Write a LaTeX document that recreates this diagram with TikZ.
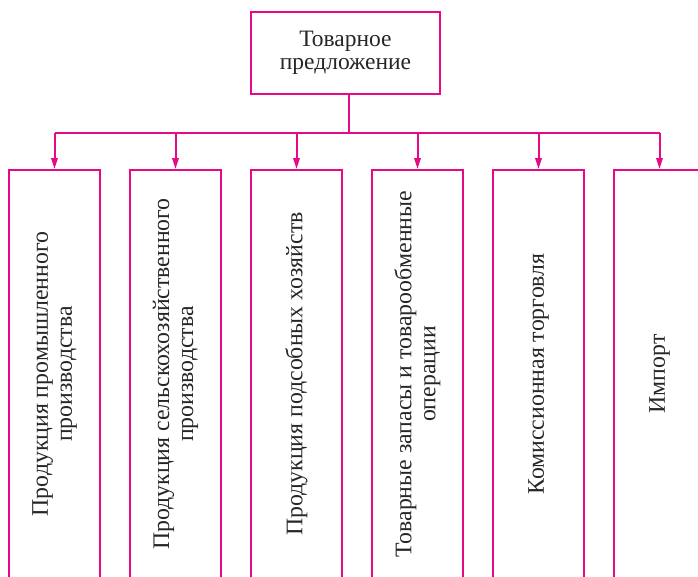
\documentclass[tikz,border=0pt]{standalone}
\usepackage{fontspec}
\setmainfont{Liberation Serif}
\usetikzlibrary{arrows.meta}
\definecolor{mag}{RGB}{230,10,135}
\begin{document}
\begin{tikzpicture}[x=1pt,y=-1pt,
  line/.style={draw=mag,line width=2pt},
  arr/.style={line,-{Triangle[length=11pt,width=6.5pt]}},
  topbox/.style={line,rectangle,minimum width=189pt,minimum height=82pt,inner sep=0pt,
    align=center,font=\fontsize{23.5}{23.5}\selectfont,text=black!85},
  colbox/.style={line,rectangle,rotate=90,minimum width=408pt,minimum height=91pt,inner sep=0pt,
    align=center,font=\fontsize{23.8}{24}\selectfont,text=black!85}]
\useasboundingbox (0,0) rectangle (698,576);
\node[topbox] (top) at (345.5,53) {Товарное\\предложение};
\node[colbox] (b1) at (54.5,374) {Продукция промышленного\\производства};
\node[colbox] (b2) at (175.5,374) {Продукция сельскохозяйственного\\производства};
\node[colbox] (b3) at (296.5,374) {Продукция подсобных хозяйств};
\node[colbox] (b4) at (417.5,374) {Товарные запасы и товарообменные\\операции};
\node[colbox] (b5) at (538.5,374) {Комиссионная торговля};
\node[colbox] (b6) at (659.5,374) {Импорт};
\coordinate (jx) at (349,132.5);
\draw[line] (top.south -| jx) -- (jx);
\draw[line] (b1.east |- jx) -- (b6.east |- jx);
\foreach \i in {1,...,6}{
  \draw[arr] (b\i.east |- jx) -- (b\i.east);
}
\end{tikzpicture}
\end{document}
